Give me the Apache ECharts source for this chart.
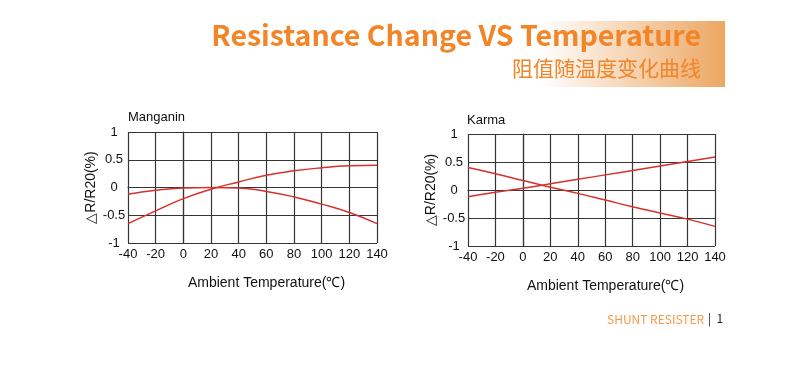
<!DOCTYPE html>
<html lang="en">
  <head>
    <meta charset="UTF-8" />
    <title>Resistance Change VS Temperature</title>
    <script src="https://cdn.jsdelivr.net/npm/echarts@6/dist/echarts.min.js"></script>
    <style>
      html, body { margin: 0; padding: 0; background: #fff; }
      #box { width: 811px; height: 376px; }
    </style>
  </head>
  <body>
    <div id="box"></div>
    <script>
      // temperature ticks (℃)
      var temps = [-40, -20, 0, 20, 40, 60, 80, 100, 120, 140];
      // Manganin: ΔR/R20 (%)
      var manganinA = [-0.12, -0.05, -0.01, 0, -0.01, -0.07, -0.17, -0.3, -0.45, -0.65];
      var manganinB = [-0.65, -0.42, -0.2, -0.03, 0.1, 0.22, 0.3, 0.355, 0.39, 0.4];
      // Karma: ΔR/R20 (%)
      var karmaA = [0.4, 0.29, 0.17, 0.05, -0.06, -0.18, -0.3, -0.41, -0.52, -0.65];
      var karmaB = [-0.12, -0.04, 0.03, 0.11, 0.19, 0.27, 0.35, 0.43, 0.51, 0.59];
      var yTicks = [-1, -0.5, 0, 0.5, 1];

      function pairs(vals) {
        return temps.map(function (t, i) {
          return [t, vals[i]];
        });
      }

      var gridColor = "#353535";
      var red = "#d8302c";
      var font = "Liberation Sans";

      function xAx(idx) {
        return {
          type: "value",
          gridIndex: idx,
          min: -40,
          max: 140,
          interval: 20,
          name: "Ambient Temperature(℃)",
          nameLocation: "middle",
          nameGap: 33,
          nameTextStyle: { color: "#111", fontSize: 14, fontFamily: font, padding: [0, 0, 0, 28] },
          axisLine: { show: true, lineStyle: { color: gridColor, width: 1.2 } },
          axisTick: { show: false },
          axisLabel: { color: "#111", fontSize: 13, fontFamily: font, margin: 5 },
          splitLine: { show: true, lineStyle: { color: gridColor, width: 1.2 } },
        };
      }
      function yAx(idx) {
        return {
          type: "value",
          gridIndex: idx,
          min: -1,
          max: 1,
          interval: 0.5,
          name: "△R/R20(%)",
          nameLocation: "middle",
          nameGap: 30,
          nameRotate: 90,
          nameTextStyle: { color: "#111", fontSize: 14, fontFamily: font },
          axisLine: { show: true, lineStyle: { color: gridColor, width: 1.2 } },
          axisTick: { show: false },
          axisLabel: {
            color: "#111",
            fontSize: 13,
            fontFamily: font,
            align: "center",
            margin: 14,
            formatter: function (v) {
              return yTicks.indexOf(v) >= 0 ? String(v) : "";
            },
          },
          splitLine: { show: true, lineStyle: { color: gridColor, width: 1.2 } },
        };
      }
      function line(xi, vals) {
        return {
          type: "line",
          xAxisIndex: xi,
          yAxisIndex: xi,
          smooth: true,
          symbol: "none",
          lineStyle: { color: red, width: 1.5 },
          data: pairs(vals),
        };
      }

      var myChart = echarts.init(document.getElementById("box"));
      var option = {
        backgroundColor: "#fff",
        animation: false,
        title: [
          { text: "Manganin", left: 123, top: 106, textStyle: { color: "#111", fontSize: 13, fontWeight: "normal", fontFamily: font } },
          { text: "Karma", left: 462, top: 109, textStyle: { color: "#111", fontSize: 13, fontWeight: "normal", fontFamily: font } },
        ],
        graphic: [
          {
            type: "rect",
            shape: { x: 540, y: 21, width: 185, height: 66 },
            style: {
              fill: new echarts.graphic.LinearGradient(0, 0, 1, 0, [
                { offset: 0, color: "rgba(238,168,100,0)" },
                { offset: 1, color: "rgba(236,166,98,1)" },
              ]),
            },
            z: 0,
          },
          {
            type: "text",
            right: 110,
            top: 21,
            style: {
              text: "Resistance Change VS Temperature",
              fill: "#f18527",
              font: "bold 28.5px 'Noto Sans CJK SC', 'Noto Sans'",
            },
            z: 2,
          },
          {
            type: "text",
            right: 110,
            top: 58,
            style: {
              text: "阻值随温度变化曲线",
              fill: "#f18527",
              font: "21px 'Noto Sans CJK SC'",
            },
            z: 2,
          },
          {
            type: "text",
            left: 607,
            top: 313,
            style: { text: "SHUNT RESISTER", fill: "#f39a4c", font: "12px 'Noto Sans CJK SC'" },
          },
          {
            type: "text",
            left: 708,
            top: 312,
            style: { text: "|  1", fill: "#222", font: "12px 'Noto Sans CJK SC'" },
          },
        ],
        grid: [
          { left: 128, right: 434, top: 132, height: 111 },
          { left: 468, right: 96, top: 134, height: 112 },
        ],
        xAxis: [xAx(0), xAx(1)],
        yAxis: [yAx(0), yAx(1)],
        series: [line(0, manganinA), line(0, manganinB), line(1, karmaA), line(1, karmaB)],
      };
      myChart.setOption(option);
    </script>
  </body>
</html>
